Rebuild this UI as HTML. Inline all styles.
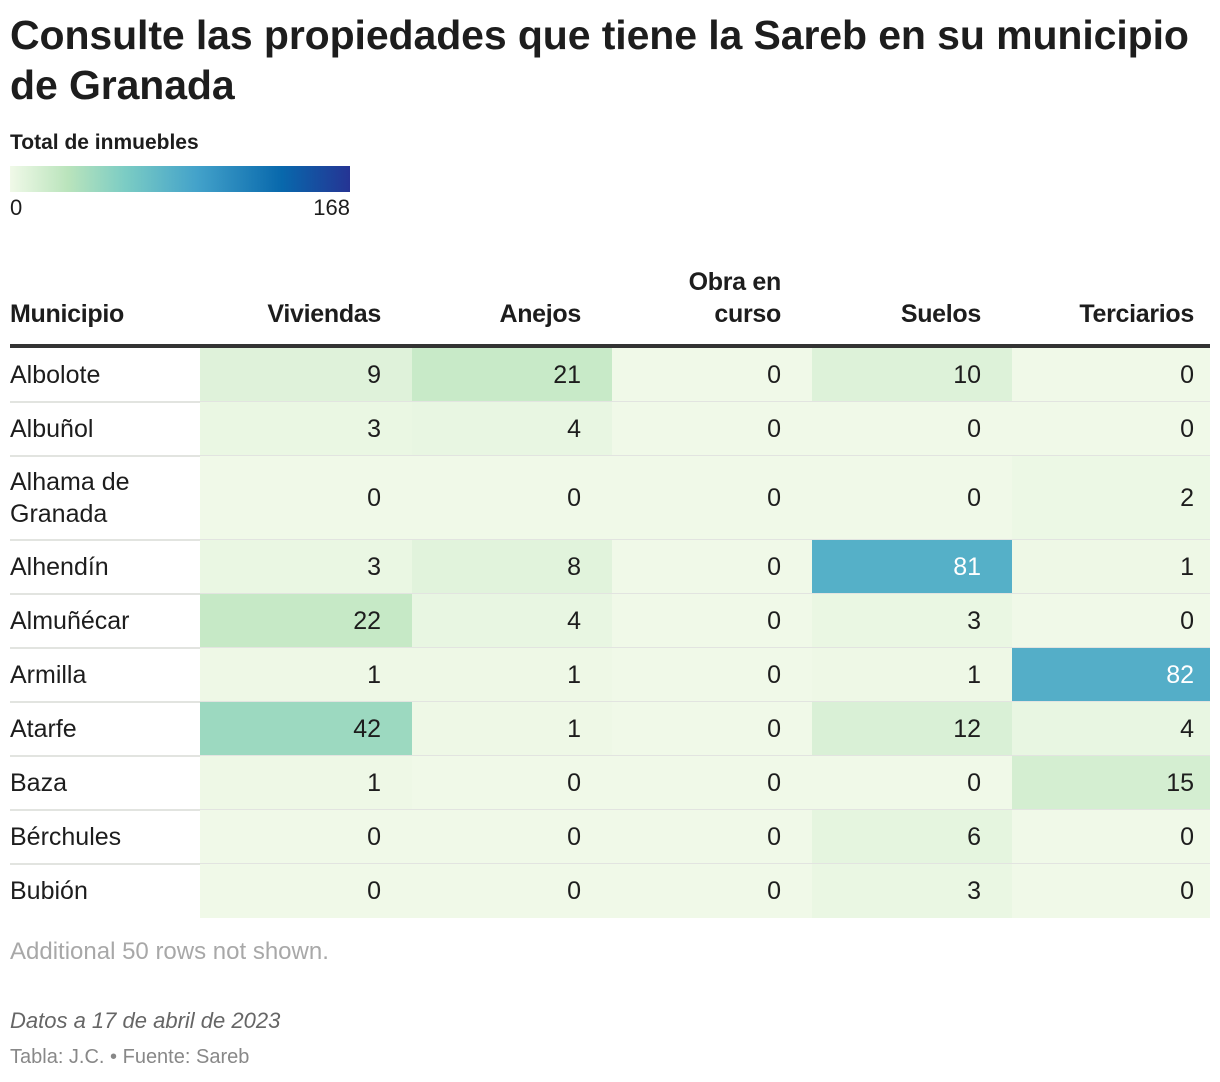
<!DOCTYPE html>
<html><head><meta charset="utf-8">
<style>
body{margin:0;width:1220px;height:1082px;background:#fff;font-family:"Liberation Sans",sans-serif;color:#1d1d1d;position:relative;overflow:hidden}
.abs{position:absolute}
h1{position:absolute;left:10px;top:10px;margin:0;font-size:41px;line-height:50px;font-weight:bold;width:1215px;letter-spacing:-0.1px;white-space:nowrap}
.hd{position:absolute;font-size:25px;font-weight:bold;line-height:32px;letter-spacing:-0.3px}
.cell{position:absolute;box-sizing:border-box;font-size:25px;display:flex;align-items:center}
.num{justify-content:flex-end;padding-right:31px}
.sep{position:absolute;left:10px;width:1200px;height:2px;background:#e2e4e0}
</style></head><body>
<h1>Consulte las propiedades que tiene la Sareb en su municipio<br>de Granada</h1>
<div class="abs" style="left:10px;top:131px;font-size:21px;font-weight:bold">Total de inmuebles</div>
<div class="abs" style="left:10px;top:166px;width:340px;height:26px;background:linear-gradient(90deg,#f0f9e8 0%,#bae4bc 17%,#7bccc4 34%,#43a2ca 55%,#0868ac 80%,#253494 100%)"></div>
<div class="abs" style="left:10px;top:195px;font-size:22px">0</div>
<div class="abs" style="left:300px;top:195px;width:50px;text-align:right;font-size:22px">168</div>
<div id="tbl"></div>
<div class="abs" style="left:10px;top:938px;font-size:24px;color:#a8a8a8">Additional 50 rows not shown.</div>
<div class="abs" style="left:10px;top:1008px;font-size:22px;color:#666;font-style:italic">Datos a 17 de abril de 2023</div>
<div class="abs" style="left:10px;top:1046px;font-size:20px;color:#888">Tabla: J.C. • Fuente: Sareb</div>
<script>
const columns=["Viviendas","Anejos","Obra en curso","Suelos","Terciarios"];
const municipios=["Albolote","Albuñol","Alhama de Granada","Alhendín","Almuñécar","Armilla","Atarfe","Baza","Bérchules","Bubión"];
const viviendas=[9,3,0,3,22,1,42,1,0,0];
const anejos=[21,4,0,8,4,1,1,0,0,0];
const obra=[0,0,0,0,0,0,0,0,0,0];
const suelos=[10,0,0,81,3,1,12,0,6,3];
const terciarios=[0,0,2,1,0,82,4,15,0,0];
const maxVal=168;
const series=[viviendas,anejos,obra,suelos,terciarios];
const stops=[[0,[240,249,232]],[0.17,[186,228,188]],[0.34,[123,204,196]],[0.55,[67,162,202]],[0.8,[8,104,172]],[1,[37,52,148]]];
function color(v){const t=Math.min(1,v/maxVal);for(let i=1;i<stops.length;i++){if(t<=stops[i][0]){const a=stops[i-1],b=stops[i];const f=(t-a[0])/(b[0]-a[0]);return 'rgb('+a[1].map((c,k)=>Math.round(c+(b[1][k]-c)*f)).join(',')+')';}}return 'rgb(37,52,148)';}
const tbl=document.getElementById('tbl');
const colX=[200,412,612,812,1012,1210];
const h0=document.createElement('div');h0.className='hd';h0.style.left='10px';h0.style.top='298px';h0.textContent='Municipio';


tbl.appendChild(h0);
columns.forEach((c,i)=>{const h=document.createElement('div');h.className='hd';h.style.left=colX[i]+'px';h.style.width=(colX[i+1]-colX[i]-(i===4?16:31))+'px';h.style.textAlign='right';h.style.top=(c==='Obra en curso'?266:298)+'px';
h.innerHTML=c==='Obra en curso'?'Obra en<br>curso':c;


tbl.appendChild(h);});
const hl=document.createElement('div');hl.className='abs';hl.style.cssText='left:10px;top:344px;width:1200px;height:4px;background:#333';


tbl.appendChild(hl);
let y=348;
municipios.forEach((m,r)=>{const hgt=m.length>14?84:54;
const n=document.createElement('div');n.className='cell';n.style.cssText=`left:10px;top:${y}px;width:185px;height:${hgt}px;line-height:32px`;n.textContent=m;


tbl.appendChild(n);
series.forEach((s,c)=>{const v=s[r];const d=document.createElement('div');d.className='cell num';
d.style.cssText=`left:${colX[c]}px;top:${y}px;width:${colX[c+1]-colX[c]}px;height:${hgt}px;background:${color(v)};color:${v/maxVal>0.4?'#fff':'#1d1d1d'}`;
if(c===4)d.style.paddingRight='16px';
d.textContent=v;


tbl.appendChild(d);});
y+=hgt;
if(r<municipios.length-1){const s=document.createElement('div');s.className='sep';s.style.top=(y-1)+'px';


tbl.appendChild(s);}
});
</script>
</body></html>
